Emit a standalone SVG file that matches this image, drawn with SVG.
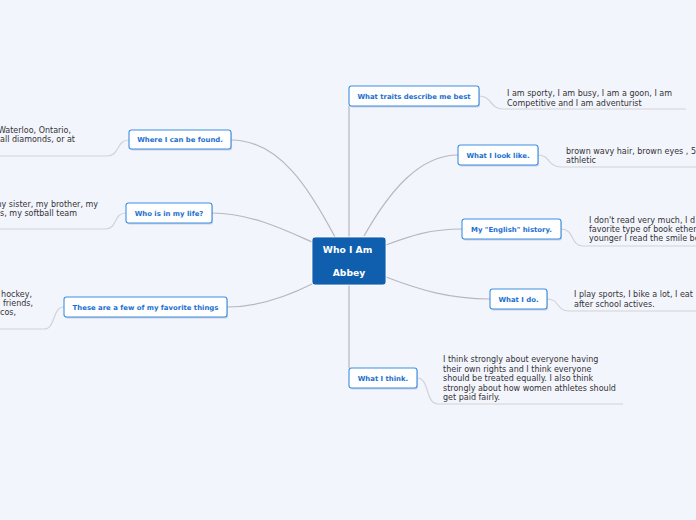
<svg xmlns="http://www.w3.org/2000/svg" width="696" height="520" viewBox="0 0 696 520">
<style>
.bg{fill:#f3f5fd}
.ln{fill:none;stroke:#b8b8bc;stroke-width:1.2}
.ul{fill:none;stroke:#d2d3d8;stroke-width:1.2}
.box{fill:#ffffff;stroke:#3d8fe3;stroke-width:1.1}
.sh{fill:#9aa6b8;opacity:0.45}
.nt{font-family:"DejaVu Sans",Verdana,sans-serif;font-weight:bold;font-size:6.9px;fill:#1a6fd0;text-anchor:middle}
.lt{font-family:"DejaVu Sans",Verdana,sans-serif;font-size:8px;fill:#333333}
.ct{font-family:"DejaVu Sans",Verdana,sans-serif;font-weight:bold;font-size:9.2px;fill:#ffffff;text-anchor:middle}
</style>
<rect class="bg" x="0" y="0" width="696" height="520"/>
<g id="connectors">
<path class="ln" d="M349,106 L349,237 M349,285 L349,368"/>
<path class="ln" d="M231,140 C280,140 310,190 335,237"/>
<path class="ln" d="M212,213 C250,213 285,230 312,242"/>
<path class="ln" d="M227,307 C260,307 290,295 312,284"/>
<path class="ln" d="M364,236 C390,190 420,155 458,155"/>
<path class="ln" d="M386,245 C410,236 430,229 462,229"/>
<path class="ln" d="M386,277 C420,290 450,299 490,299"/>
<path class="ul" d="M479,96 C492,96 490,109 503,109 L686,109"/>
<path class="ul" d="M538,155 C550,155 548,167 561,167 L696,167"/>
<path class="ul" d="M561,229 C575,229 570,246 583,246 L696,246"/>
<path class="ul" d="M547,299 C560,299 556,311 569,311 L696,311"/>
<path class="ul" d="M417,378 C430,378 425,404 438,404 L623,404"/>
<path class="ul" d="M129,140 C116,140 120,156 107,156 L0,156"/>
<path class="ul" d="M126,213 C113,213 118,229 105,229 L0,229"/>
<path class="ul" d="M64,307 C52,307 56,329 44,329 L0,329"/>
</g>
<g id="center">
<rect x="312" y="237" width="74" height="48" rx="3" fill="#0f5fae" stroke="#ffffff" stroke-width="0.8"/>
<text class="ct" x="347.5" y="253">Who I Am</text>
<text class="ct" x="349" y="275.5">Abbey</text>
</g>
<g id="n-traits">
<rect class="sh" x="350" y="87.5" width="130" height="20" rx="2.5"/>
<rect class="box" x="349" y="86" width="130" height="20" rx="2.5"/>
<text class="nt" x="414" y="98.5">What traits describe me be<tspan dy="0.8">st</tspan></text>
</g>
<g id="l-traits">
<text class="lt" x="507" y="96">I am sporty, I am busy, I am a goon, I am</text>
<text class="lt" x="507" y="105.5">Competitive and I am adventurist</text>
</g>
<g id="n-look">
<rect class="sh" x="459" y="146.5" width="80" height="20" rx="2.5"/>
<rect class="box" x="458" y="145" width="80" height="20" rx="2.5"/>
<text class="nt" x="498" y="157.5">What I look like.</text>
</g>
<g id="l-look">
<text class="lt" x="566" y="154">brown wavy hair, brown eyes , 5</text>
<text class="lt" x="566" y="163">athletic</text>
</g>
<g id="n-english">
<rect class="sh" x="463" y="220.5" width="99" height="20" rx="2.5"/>
<rect class="box" x="462" y="219" width="99" height="20" rx="2.5"/>
<text class="nt" x="511.5" y="231.5">My "English" history.</text>
</g>
<g id="l-english">
<text class="lt" x="589" y="223">I don't read very much, I d</text>
<text class="lt" x="589" y="232">favorite type of book ether</text>
<text class="lt" x="589" y="241">younger I read the smile be</text>
</g>
<g id="n-do">
<rect class="sh" x="491" y="290.5" width="57" height="20" rx="2.5"/>
<rect class="box" x="490" y="289" width="57" height="20" rx="2.5"/>
<text class="nt" x="518.5" y="301.5">What I do.</text>
</g>
<g id="l-do">
<text class="lt" x="574" y="297">I play sports, I bike a lot, I eat</text>
<text class="lt" x="574" y="306.5">after school actives.</text>
</g>
<g id="n-think">
<rect class="sh" x="350" y="369.5" width="68" height="20" rx="2.5"/>
<rect class="box" x="349" y="368" width="68" height="20" rx="2.5"/>
<text class="nt" x="383" y="380.5">What I think.</text>
</g>
<g id="l-think">
<text class="lt" x="443" y="362">I think strongly about everyone having</text>
<text class="lt" x="443" y="371.5">their own rights and I think everyone</text>
<text class="lt" x="443" y="381">should be treated equally. I also think</text>
<text class="lt" x="443" y="390.5">strongly about how women athletes should</text>
<text class="lt" x="443" y="400">get paid fairly.</text>
</g>
<g id="n-where">
<rect class="sh" x="130" y="131.5" width="102" height="19" rx="2.5"/>
<rect class="box" x="129" y="130" width="102" height="19" rx="2.5"/>
<text class="nt" x="180" y="142">Where I can be found.</text>
</g>
<g id="l-where">
<text class="lt" x="71" y="133" text-anchor="end">Waterloo, Ontario,</text>
<text class="lt" x="75" y="142" text-anchor="end">all diamonds, or at</text>
</g>
<g id="n-who">
<rect class="sh" x="127" y="204.5" width="86" height="20" rx="2.5"/>
<rect class="box" x="126" y="203" width="86" height="20" rx="2.5"/>
<text class="nt" x="169" y="215.5">Who is in my life?</text>
</g>
<g id="l-who">
<text class="lt" x="98" y="207" text-anchor="end">my sister, my brother, my</text>
<text class="lt" x="77" y="216" text-anchor="end">s, my softball team</text>
</g>
<g id="n-fav">
<rect class="sh" x="65" y="298.5" width="163" height="20" rx="2.5"/>
<rect class="box" x="64" y="297" width="163" height="20" rx="2.5"/>
<text class="nt" x="145.5" y="309.5">These are a few of my favorite things</text>
</g>
<g id="l-fav">
<text class="lt" x="32" y="297" text-anchor="end">hockey,</text>
<text class="lt" x="33" y="306" text-anchor="end">friends,</text>
<text class="lt" x="16" y="314.5" text-anchor="end">cos,</text>
</g>
</svg>
